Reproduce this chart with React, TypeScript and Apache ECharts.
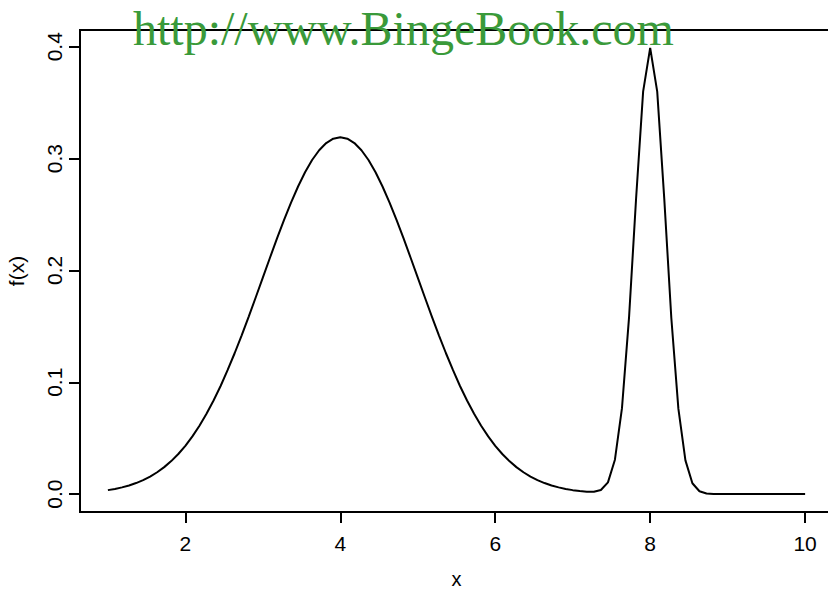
import React, { useEffect, useRef } from "react";
import * as echarts from "echarts";

// x grid (1 to 10, 100 points)
const xValues: number[] = [
  1, 1.091, 1.182, 1.273, 1.364, 1.455, 1.545, 1.636, 1.727, 1.818, 1.909,
  2, 2.091, 2.182, 2.273, 2.364, 2.455, 2.545, 2.636, 2.727, 2.818, 2.909,
  3, 3.091, 3.182, 3.273, 3.364, 3.455, 3.545, 3.636, 3.727, 3.818, 3.909,
  4, 4.091, 4.182, 4.273, 4.364, 4.455, 4.545, 4.636, 4.727, 4.818, 4.909,
  5, 5.091, 5.182, 5.273, 5.364, 5.455, 5.545, 5.636, 5.727, 5.818, 5.909,
  6, 6.091, 6.182, 6.273, 6.364, 6.455, 6.545, 6.636, 6.727, 6.818, 6.909,
  7, 7.091, 7.182, 7.273, 7.364, 7.455, 7.545, 7.636, 7.727, 7.818, 7.909,
  8, 8.091, 8.182, 8.273, 8.364, 8.455, 8.545, 8.636, 8.727, 8.818, 8.909,
  9, 9.091, 9.182, 9.273, 9.364, 9.455, 9.545, 9.636, 9.727, 9.818, 9.909,
  10,
];

// density values f(x)
const fValues: number[] = [
  0.00355, 0.00464, 0.00602, 0.00774, 0.00988, 0.0125, 0.01569, 0.01954, 0.02412, 0.02953, 0.03586,
  0.04319, 0.05159, 0.06112, 0.0718, 0.08367, 0.09668, 0.11081, 0.12596, 0.14199, 0.15875, 0.17603,
  0.19358, 0.21113, 0.22837, 0.24499, 0.26065, 0.27504, 0.28783, 0.29874, 0.3075, 0.31392, 0.31784,
  0.31915, 0.31784, 0.31392, 0.3075, 0.29874, 0.28783, 0.27504, 0.26065, 0.24499, 0.22837, 0.21113,
  0.19358, 0.17603, 0.15875, 0.14199, 0.12596, 0.11081, 0.09668, 0.08367, 0.0718, 0.06112, 0.05159,
  0.04319, 0.03586, 0.02953, 0.02412, 0.01954, 0.01569, 0.0125, 0.00988, 0.00774, 0.00602, 0.00464,
  0.00355, 0.0027, 0.00211, 0.00205, 0.00364, 0.0105, 0.03074, 0.07683, 0.15775, 0.26413, 0.35993,
  0.39905, 0.35985, 0.26396, 0.15747, 0.07642, 0.03017, 0.00969, 0.00253, 0.00054, 0.00009, 0.00001,
  0, 0, 0, 0, 0, 0, 0, 0, 0, 0, 0,
  0,
];

const xTicks: number[] = [2, 4, 6, 8, 10];
const yTicks: number[] = [0, 0.1, 0.2, 0.3, 0.4];
const xTitle = "x";
const yTitle = "f(x)";
const watermark = "http://www.BingeBook.com";

export default function App() {
  const ref = useRef<HTMLDivElement>(null);
  useEffect(() => {
    if (!ref.current) return;
    const chart = echarts.init(ref.current, undefined, { renderer: "svg" });
    const font = "Liberation Sans, Arial, Helvetica, sans-serif";
    const data = xValues.map((x, i) => [x, fValues[i]]);
    chart.setOption({
      animation: false,
      backgroundColor: "#ffffff",
      grid: {
        left: 80,
        top: 30,
        right: 1,
        bottom: 79,
        containLabel: false,
        outerBoundsMode: "none",
        show: true,
        borderColor: "#000",
        borderWidth: 2,
        backgroundColor: "transparent",
      },
      xAxis: {
        type: "value",
        min: 0.64,
        max: 10.36,
        name: xTitle,
        nameLocation: "middle",
        nameGap: 57,
        nameTextStyle: { color: "#000", fontFamily: font, fontSize: 20 },
        axisLine: { show: true, onZero: false, lineStyle: { color: "#000", width: 2 } },
        axisTick: {
          show: true,
          length: 11,
          inside: false,
          customValues: xTicks,
          lineStyle: { color: "#000", width: 2 },
        },
        axisLabel: {
          show: true,
          customValues: xTicks,
          color: "#000",
          fontFamily: font,
          fontSize: 21,
          margin: 21,
        },
        splitLine: { show: false },
      },
      yAxis: {
        type: "value",
        min: -0.016,
        max: 0.415,
        name: yTitle,
        nameLocation: "middle",
        nameGap: 53,
        nameRotate: 90,
        nameTextStyle: { color: "#000", fontFamily: font, fontSize: 21 },
        axisLine: { show: true, onZero: false, lineStyle: { color: "#000", width: 2 } },
        axisTick: {
          show: true,
          length: 11,
          inside: false,
          customValues: yTicks,
          lineStyle: { color: "#000", width: 2 },
        },
        axisLabel: {
          show: true,
          customValues: yTicks,
          rotate: 90,
          color: "#000",
          fontFamily: font,
          fontSize: 21,
          margin: 15,
          formatter: (v: number) => v.toFixed(1),
        },
        splitLine: { show: false },
      },
      series: [
        {
          type: "line",
          data,
          showSymbol: false,
          smooth: false,
          lineStyle: { color: "#000", width: 2 },
          z: 3,
        },
      ],
      graphic: [
        {
          type: "text",
          z: 100,
          left: 133,
          top: 4,
          style: {
            text: watermark,
            fill: "#3a9a3a",
            font: "48px 'Liberation Serif', 'Times New Roman', serif",
          },
        },
      ],
    });
    return () => chart.dispose();
  }, []);
  return (
    <div
      ref={ref}
      style={{ position: "fixed", left: 0, top: 0, width: 834, height: 591, background: "#fff" }}
    />
  );
}
